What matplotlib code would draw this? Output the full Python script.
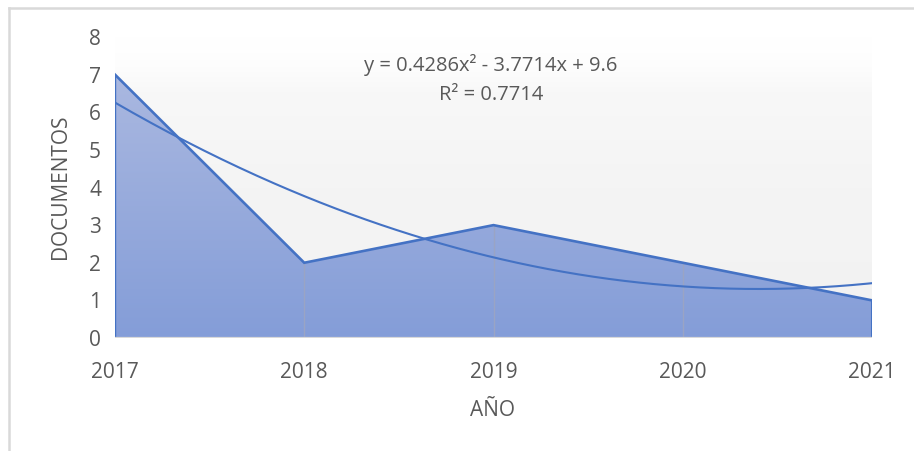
import numpy as np
import matplotlib
matplotlib.use("Agg")
import matplotlib.pyplot as plt
from matplotlib.colors import LinearSegmentedColormap
from matplotlib.lines import Line2D

# ---- data ----
years = [2017, 2018, 2019, 2020, 2021]
documentos = [7, 2, 3, 2, 1]
y_ticks = [0, 1, 2, 3, 4, 5, 6, 7, 8]
equation_label = "y = 0.4286x² - 3.7714x + 9.6"
r2_label = "R² = 0.7714"
x_title = "AÑO"
y_title = "DOCUMENTOS"

plt.rcParams['font.family'] = ['Open Sans', 'DejaVu Sans']
text_color = '#595959'
line_color = '#4472c4'

fig = plt.figure(figsize=(9.14, 4.51), dpi=100)
fig.patch.set_facecolor('white')
W, H = 914, 451
ax = fig.add_axes([115 / W, 113 / H, (872 - 115) / W, (338 - 37) / H])

ax.set_xlim(years[0], years[-1])
ax.set_ylim(y_ticks[0], y_ticks[-1])

# plot-area background gradient
bg_cmap = LinearSegmentedColormap.from_list(
    'bg', [(0.0, '#f2f2f2'), (0.5, '#f4f4f4'), (0.82, '#f8f8f8'), (0.9, '#fdfdfd'), (1.0, '#ffffff')])
grad = np.linspace(0, 1, 256).reshape(-1, 1)
ax.imshow(grad, extent=[years[0], years[-1], y_ticks[0], y_ticks[-1]], origin='lower',
          cmap=bg_cmap, aspect='auto', zorder=0, interpolation='bicubic')

# area with gradient fill
poly = ax.fill_between(years, 0, documentos, facecolor='none', edgecolor='none', zorder=1)
fill_cmap = LinearSegmentedColormap.from_list('fill', ['#849dd8', '#aab8e0'])
im = ax.imshow(grad, extent=[years[0], years[-1], 0, max(documentos)], origin='lower',
               cmap=fill_cmap, aspect='auto', zorder=1, interpolation='bicubic')
path = poly.get_paths()[0]
im.set_clip_path(path, transform=ax.transData)

# vertical gridlines visible inside the area
ax.vlines(years[1:-1], 0, documentos[1:-1], color='#9aa4c4', lw=1.0, zorder=2)

# area outline
ax.plot(years, documentos, color=line_color, lw=1.9, zorder=3, solid_joinstyle='miter')
ax.plot([years[0], years[0]], [0, documentos[0]], color=line_color, lw=1.0, zorder=3)
ax.plot([years[-1], years[-1]], [0, documentos[-1]], color=line_color, lw=1.5, zorder=3)

# polynomial trendline (order 2) fitted to the data
xi = np.arange(1, len(years) + 1)
coef = np.polyfit(xi, documentos, 2)
xs = np.linspace(1, len(years), 300)
ax.plot(xs + years[0] - 1, np.polyval(coef, xs), color=line_color, lw=1.5, zorder=4)

# axes styling
for s in ax.spines.values():
    s.set_visible(False)
ax.axhline(0, color='#d9d9d9', lw=1.6, zorder=5)
ax.set_xticks(years)
ax.set_xticklabels([str(y) for y in years])
ax.set_yticks(y_ticks)
ax.tick_params(axis='both', length=0, labelsize=15, labelcolor=text_color)
ax.tick_params(axis='x', pad=17)
ax.tick_params(axis='y', pad=10)

ax.text((493 - 115) / 757, -(410 - 338) / 301, x_title, transform=ax.transAxes,
        ha='center', va='center', fontsize=15, color=text_color)
ax.text(-(115 - 61) / 757, (338 - 187) / 301, y_title, transform=ax.transAxes,
        ha='center', va='center', rotation=90, fontsize=15, color=text_color)

ax.text((491 - 115) / 757, (338 - 65) / 301, equation_label, transform=ax.transAxes,
        ha='center', va='center', fontsize=14.5, color=text_color, zorder=6)
ax.text((491 - 115) / 757, (338 - 95) / 301, r2_label, transform=ax.transAxes,
        ha='center', va='center', fontsize=14.5, color=text_color, zorder=6)

# outer chart border (left and top)
fig.add_artist(Line2D([8.5 / W, 8.5 / W], [0, (H - 7.5) / H], color='#d9d9d9', lw=1.8,
                      transform=fig.transFigure))
fig.add_artist(Line2D([8.5 / W, 1.0], [(H - 7.5) / H, (H - 7.5) / H], color='#d9d9d9', lw=1.8,
                      transform=fig.transFigure))

fig.savefig('out.png', dpi=100)
